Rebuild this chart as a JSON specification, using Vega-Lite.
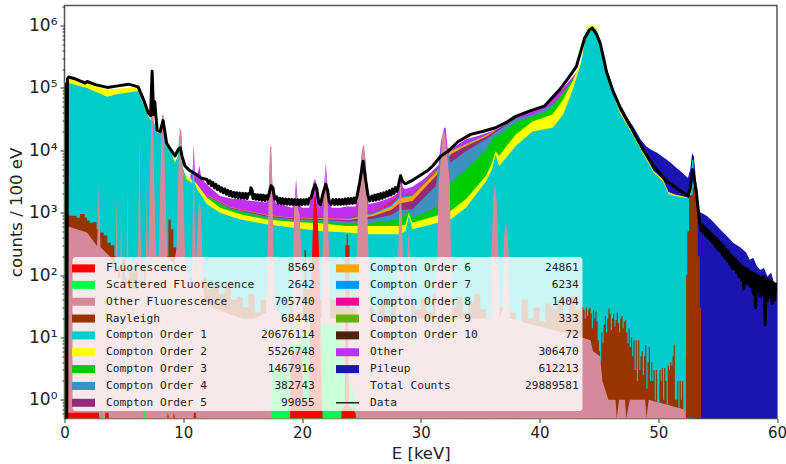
{"$schema":"https://vega.github.io/schema/vega-lite/v6.json","width":712.5,"height":413,"autosize":{"type":"none"},"padding":{"left":64.5,"top":5.5,"right":9,"bottom":45.5},"background":"white","config":{"view":{"stroke":"#555555","strokeWidth":1.5},"font":"DejaVu Sans"},"params":[{"name":"counts","value":{"Fluorescence":"8569","Scattered Fluorescence":"2642","Other Fluorescence":"705740","Rayleigh":"68448","Compton Order 1":"20676114","Compton Order 2":"5526748","Compton Order 3":"1467916","Compton Order 4":"382743","Compton Order 5":"99055","Compton Order 6":"24861","Compton Order 7":"6234","Compton Order 8":"1404","Compton Order 9":"333","Compton Order 10":"72","Other":"306470","Pileup":"612213","Total Counts":"29889581","Data":""}}],
"datasets":{
"pileup":[{"E":44.4,"counts":9e5},{"E":45,"counts":6e5},{"E":45.35,"counts":370000},{"E":45.63,"counts":210000},{"E":46.2,"counts":100000},{"E":46.75,"counts":5.5e4},{"E":47.3,"counts":3.5e4},{"E":47.9,"counts":2.4e4},{"E":48.5,"counts":1.5e4},{"E":49,"counts":1.15e4},{"E":49.4,"counts":1.02e4},{"E":49.9,"counts":9100},{"E":50.3,"counts":8000},{"E":50.7,"counts":7100},{"E":51.1,"counts":6200},{"E":51.5,"counts":5300},{"E":52,"counts":4400},{"E":52.5,"counts":3600},{"E":52.7,"counts":5000},{"E":52.85,"counts":9000},{"E":53,"counts":8000},{"E":53.2,"counts":3000},{"E":53.4,"counts":1050},{"E":53.7,"counts":980},{"E":54.1,"counts":885},{"E":54.6,"counts":720},{"E":55.2,"counts":540},{"E":55.8,"counts":420},{"E":56.3,"counts":330},{"E":56.9,"counts":280},{"E":57.4,"counts":230},{"E":57.7,"counts":175},{"E":58,"counts":190},{"E":58.3,"counts":140},{"E":58.6,"counts":120},{"E":58.9,"counts":130},{"E":59.2,"counts":95},{"E":59.5,"counts":110},{"E":59.8,"counts":70},{"E":60,"counts":75}],
"other":[{"E":10.6,"counts":4000},{"E":10.8,"counts":5000},{"E":10.88,"counts":12500},{"E":10.98,"counts":4500},{"E":11.2,"counts":4000},{"E":11.36,"counts":5700},{"E":11.5,"counts":3800},{"E":11.8,"counts":3100},{"E":12,"counts":2840},{"E":12.5,"counts":2300},{"E":13.1,"counts":1850},{"E":14,"counts":1680},{"E":14.8,"counts":1640},{"E":15.6,"counts":1550},{"E":16.5,"counts":1500},{"E":17,"counts":1450},{"E":17.2,"counts":2500},{"E":17.36,"counts":13000},{"E":17.52,"counts":2500},{"E":17.8,"counts":1400},{"E":18.5,"counts":1300},{"E":19.2,"counts":1200},{"E":19.4,"counts":1800},{"E":19.5,"counts":3500},{"E":19.65,"counts":1500},{"E":20,"counts":1200},{"E":20.6,"counts":1200},{"E":20.95,"counts":3000},{"E":21.1,"counts":3500},{"E":21.3,"counts":2500},{"E":21.5,"counts":1200},{"E":21.8,"counts":2000},{"E":22,"counts":6200},{"E":22.2,"counts":2000},{"E":22.5,"counts":1200},{"E":23.2,"counts":1200},{"E":23.75,"counts":1250},{"E":24.5,"counts":1250},{"E":24.75,"counts":1600},{"E":25,"counts":8000},{"E":25.16,"counts":12500},{"E":25.35,"counts":7000},{"E":25.6,"counts":1360},{"E":26.5,"counts":1500},{"E":27.5,"counts":1750},{"E":28,"counts":2000},{"E":28.1,"counts":2800},{"E":28.3,"counts":4300},{"E":28.5,"counts":2500},{"E":28.7,"counts":2400},{"E":29.3,"counts":2600},{"E":30,"counts":3200},{"E":30.5,"counts":3800},{"E":31.1,"counts":4900},{"E":31.5,"counts":5800},{"E":31.7,"counts":14000},{"E":31.97,"counts":23000},{"E":32.1,"counts":23000},{"E":32.25,"counts":11000},{"E":32.5,"counts":10300},{"E":33.8,"counts":15000},{"E":35,"counts":17500},{"E":36.2,"counts":21000},{"E":37,"counts":25000},{"E":38,"counts":34000},{"E":40.4,"counts":50000},{"E":41.7,"counts":88000},{"E":42.8,"counts":150000},{"E":43.3,"counts":200000}],
"c10":[{"E":24,"counts":828},{"E":26,"counts":1025},{"E":28.2,"counts":1830},{"E":29.3,"counts":2000},{"E":31.27,"counts":4620},{"E":32.5,"counts":10000}],
"c9":[{"E":24,"counts":825},{"E":26,"counts":1020},{"E":28.2,"counts":1820},{"E":29.3,"counts":1990},{"E":31.27,"counts":4600},{"E":32.5,"counts":9950}],
"c8":[{"E":24,"counts":820},{"E":26,"counts":1010},{"E":28.2,"counts":1800},{"E":29.3,"counts":1970},{"E":31.27,"counts":4550},{"E":32.5,"counts":9900},{"E":33.8,"counts":12900}],
"c7":[{"E":24,"counts":810},{"E":26,"counts":1000},{"E":27.5,"counts":1320},{"E":28.2,"counts":1780},{"E":29.3,"counts":1950},{"E":31.27,"counts":4500},{"E":32.5,"counts":9800},{"E":33.8,"counts":12800},{"E":35.5,"counts":17800}],
"c6":[{"E":12,"counts":1930},{"E":14,"counts":1220},{"E":17,"counts":920},{"E":19,"counts":840},{"E":21.5,"counts":810},{"E":24,"counts":790},{"E":26,"counts":950},{"E":27.5,"counts":1250},{"E":28.2,"counts":1700},{"E":29.3,"counts":1850},{"E":31.27,"counts":4400},{"E":32.5,"counts":9700},{"E":33.8,"counts":12500},{"E":35.5,"counts":17500},{"E":36.2,"counts":20500}],
"c5":[{"E":12,"counts":1900},{"E":14,"counts":1200},{"E":17,"counts":900},{"E":19,"counts":820},{"E":21.5,"counts":790},{"E":24,"counts":760},{"E":26,"counts":880},{"E":27.5,"counts":1100},{"E":28.2,"counts":1400},{"E":29.3,"counts":1540},{"E":31.27,"counts":3860},{"E":32.5,"counts":8600},{"E":33.8,"counts":11700},{"E":35.5,"counts":16500},{"E":36.2,"counts":20000},{"E":38,"counts":33000}],
"c4":[{"E":12,"counts":1850},{"E":14,"counts":1170},{"E":17,"counts":870},{"E":19,"counts":790},{"E":21.5,"counts":760},{"E":24,"counts":720},{"E":26,"counts":800},{"E":27.5,"counts":920},{"E":28.2,"counts":1100},{"E":29.3,"counts":1130},{"E":31.27,"counts":2670},{"E":31.7,"counts":10000},{"E":31.8,"counts":11000},{"E":32.2,"counts":11000},{"E":32.5,"counts":6300},{"E":33.8,"counts":9700},{"E":35.5,"counts":15000},{"E":36.2,"counts":19000},{"E":38,"counts":32000},{"E":39.4,"counts":37000},{"E":40.6,"counts":48000},{"E":41.5,"counts":60000}],
"c3":[{"E":12,"counts":1800},{"E":14,"counts":1120},{"E":17,"counts":830},{"E":19,"counts":750},{"E":21.5,"counts":720},{"E":24,"counts":660},{"E":26,"counts":690},{"E":27.5,"counts":740},{"E":28.2,"counts":800},{"E":29,"counts":1050},{"E":29.3,"counts":832},{"E":31.27,"counts":1200},{"E":32.5,"counts":3000},{"E":33.8,"counts":4900},{"E":35.5,"counts":10300},{"E":36.2,"counts":17000},{"E":36.6,"counts":17500},{"E":38,"counts":28000},{"E":39.4,"counts":35000},{"E":40.6,"counts":42000},{"E":42,"counts":84000},{"E":42.8,"counts":137000},{"E":43,"counts":140000}],
"c2":[{"E":0.02,"counts":130000},{"E":0.35,"counts":145000},{"E":1.9,"counts":120000},{"E":3.6,"counts":94000},{"E":4.4,"counts":97000},{"E":6.2,"counts":104000},{"E":6.65,"counts":62000},{"E":7.05,"counts":37000},{"E":7.8,"counts":20500},{"E":8.6,"counts":13000},{"E":9.3,"counts":7000},{"E":10.3,"counts":3900},{"E":11.1,"counts":2950},{"E":12,"counts":1740},{"E":13.1,"counts":1200},{"E":14.8,"counts":940},{"E":17,"counts":780},{"E":19.3,"counts":710},{"E":21.5,"counts":675},{"E":23.75,"counts":611},{"E":25.4,"counts":611},{"E":28.2,"counts":611},{"E":28.7,"counts":640},{"E":29,"counts":1000},{"E":29.15,"counts":800},{"E":29.3,"counts":690},{"E":31.27,"counts":885},{"E":32.5,"counts":1060},{"E":33.8,"counts":1640},{"E":35.5,"counts":3900},{"E":36,"counts":6300},{"E":36.3,"counts":9700},{"E":36.6,"counts":8100},{"E":38,"counts":18000},{"E":39.4,"counts":29000},{"E":41.1,"counts":37600},{"E":42,"counts":65000},{"E":42.8,"counts":129000},{"E":43.5,"counts":270000},{"E":43.65,"counts":400000},{"E":43.95,"counts":840000},{"E":44.1,"counts":970000},{"E":44.45,"counts":1040000},{"E":44.8,"counts":920000},{"E":45.07,"counts":600000},{"E":45.35,"counts":330000},{"E":45.63,"counts":175000},{"E":46.2,"counts":83000},{"E":46.76,"counts":43000},{"E":47.9,"counts":18000},{"E":49.6,"counts":4700},{"E":50.4,"counts":3400},{"E":50.85,"counts":2150},{"E":51.4,"counts":1950},{"E":52.5,"counts":1750},{"E":52.6,"counts":0.5}],
"c1":[{"E":0.02,"counts":110000},{"E":0.35,"counts":120000},{"E":1.9,"counts":100000},{"E":3.6,"counts":72000},{"E":4.4,"counts":79000},{"E":6.2,"counts":89000},{"E":6.65,"counts":54000},{"E":7.05,"counts":35000},{"E":7.25,"counts":30000},{"E":7.38,"counts":150000},{"E":7.5,"counts":30000},{"E":7.8,"counts":19000},{"E":8.05,"counts":19000},{"E":8.2,"counts":30000},{"E":8.4,"counts":30000},{"E":8.6,"counts":14000},{"E":9.3,"counts":6300},{"E":9.55,"counts":8000},{"E":9.65,"counts":17000},{"E":9.85,"counts":17000},{"E":10,"counts":5000},{"E":10.3,"counts":3400},{"E":10.75,"counts":3000},{"E":10.85,"counts":8000},{"E":10.95,"counts":3000},{"E":11.1,"counts":2500},{"E":12,"counts":1360},{"E":13.1,"counts":1000},{"E":14.8,"counts":780},{"E":17,"counts":650},{"E":19.3,"counts":575},{"E":21.5,"counts":508},{"E":23.75,"counts":479},{"E":25.4,"counts":450},{"E":28.2,"counts":450},{"E":28.7,"counts":500},{"E":29,"counts":885},{"E":29.15,"counts":700},{"E":29.3,"counts":540},{"E":31.27,"counts":675},{"E":32.5,"counts":780},{"E":33.8,"counts":1200},{"E":35.5,"counts":3200},{"E":36,"counts":4900},{"E":36.3,"counts":8600},{"E":36.6,"counts":5600},{"E":38,"counts":11700},{"E":39.4,"counts":20000},{"E":41.1,"counts":23000},{"E":42,"counts":37600},{"E":42.8,"counts":94000},{"E":43.5,"counts":250000},{"E":43.65,"counts":360000},{"E":43.95,"counts":760000},{"E":44.1,"counts":890000},{"E":44.45,"counts":910000},{"E":44.8,"counts":850000},{"E":45.07,"counts":550000},{"E":45.35,"counts":310000},{"E":45.63,"counts":165000},{"E":46.2,"counts":79000},{"E":46.76,"counts":40000},{"E":47.9,"counts":17000},{"E":49.6,"counts":4400},{"E":50.4,"counts":3200},{"E":50.85,"counts":2000},{"E":51.4,"counts":1850},{"E":52.5,"counts":1700},{"E":52.65,"counts":1700},{"E":52.85,"counts":7000},{"E":52.95,"counts":7000},{"E":53.1,"counts":1700},{"E":53.2,"counts":300},{"E":53.25,"counts":0.5}],
"rayleigh":[{"E":0.2,"counts":900},{"E":0.5,"counts":891},{"E":1,"counts":830},{"E":1.3,"counts":950},{"E":1.7,"counts":830},{"E":1.9,"counts":750},{"E":2.1,"counts":690},{"E":2.4,"counts":700},{"E":2.7,"counts":540},{"E":3,"counts":480},{"E":3.3,"counts":430},{"E":3.6,"counts":330},{"E":3.9,"counts":300},{"E":4.2,"counts":200},{"E":4.3,"counts":140},{"E":4.5,"counts":130},{"E":4.8,"counts":180},{"E":5.1,"counts":90},{"E":5.4,"counts":150},{"E":5.7,"counts":110},{"E":6,"counts":160},{"E":6.5,"counts":80},{"E":6.7,"counts":120},{"E":7.6,"counts":120},{"E":8.05,"counts":374},{"E":8.4,"counts":200},{"E":8.75,"counts":780},{"E":8.95,"counts":540},{"E":9.17,"counts":275},{"E":9.45,"counts":200},{"E":9.6,"counts":150},{"E":10,"counts":120},{"E":10.4,"counts":90},{"E":10.8,"counts":130},{"E":11.2,"counts":70},{"E":11.6,"counts":90},{"E":12,"counts":60},{"E":12.5,"counts":70},{"E":13,"counts":50},{"E":13.5,"counts":75},{"E":14,"counts":40},{"E":14.5,"counts":45},{"E":15,"counts":30},{"E":15.5,"counts":50},{"E":16,"counts":25},{"E":16.5,"counts":40},{"E":17,"counts":25},{"E":17.6,"counts":30},{"E":18,"counts":20},{"E":18.5,"counts":15},{"E":19,"counts":40},{"E":19.8,"counts":40},{"E":20.05,"counts":60},{"E":20.2,"counts":250},{"E":20.35,"counts":60},{"E":21,"counts":40},{"E":23.5,"counts":30},{"E":23.65,"counts":300},{"E":23.75,"counts":450},{"E":23.85,"counts":300},{"E":24,"counts":30},{"E":25.6,"counts":30},{"E":26,"counts":22},{"E":26.5,"counts":35},{"E":27,"counts":20},{"E":27.5,"counts":40},{"E":28,"counts":25},{"E":28.5,"counts":18},{"E":29,"counts":35},{"E":29.5,"counts":28},{"E":30,"counts":42},{"E":30.5,"counts":25},{"E":31,"counts":50},{"E":31.5,"counts":30},{"E":32.5,"counts":30},{"E":33,"counts":45},{"E":33.5,"counts":25},{"E":34,"counts":35},{"E":34.5,"counts":50},{"E":35,"counts":28},{"E":35.5,"counts":20},{"E":36,"counts":30},{"E":37.5,"counts":25},{"E":38,"counts":16},{"E":38.5,"counts":40},{"E":39,"counts":20},{"E":39.5,"counts":30},{"E":40,"counts":18},{"E":40.5,"counts":35},{"E":41,"counts":28},{"E":41.5,"counts":40},{"E":42,"counts":22},{"E":42.5,"counts":45},{"E":43,"counts":28},{"E":43.5,"counts":30},{"E":43.7,"counts":27.7},{"E":43.8,"counts":20},{"E":43.9,"counts":30},{"E":44,"counts":22},{"E":44.1,"counts":28},{"E":44.2,"counts":30},{"E":44.3,"counts":24},{"E":44.4,"counts":14},{"E":44.5,"counts":27},{"E":44.6,"counts":20},{"E":44.7,"counts":26},{"E":44.8,"counts":18},{"E":44.9,"counts":9},{"E":45,"counts":6},{"E":45.1,"counts":4},{"E":45.2,"counts":12},{"E":45.3,"counts":8},{"E":45.4,"counts":16},{"E":45.5,"counts":22},{"E":45.6,"counts":12},{"E":45.7,"counts":20},{"E":45.8,"counts":29},{"E":45.9,"counts":24},{"E":46,"counts":13},{"E":46.1,"counts":20},{"E":46.2,"counts":24},{"E":46.3,"counts":15},{"E":46.4,"counts":19},{"E":46.5,"counts":25},{"E":46.6,"counts":17},{"E":46.7,"counts":12},{"E":46.8,"counts":20},{"E":46.9,"counts":22},{"E":47,"counts":14},{"E":47.1,"counts":18},{"E":47.2,"counts":19},{"E":47.3,"counts":12},{"E":47.4,"counts":8},{"E":47.5,"counts":14},{"E":47.6,"counts":7},{"E":47.7,"counts":10},{"E":47.8,"counts":5},{"E":47.9,"counts":9},{"E":48,"counts":3},{"E":48.1,"counts":9},{"E":48.2,"counts":2},{"E":48.3,"counts":9},{"E":48.4,"counts":3},{"E":48.5,"counts":5},{"E":48.6,"counts":6},{"E":48.7,"counts":2.5},{"E":48.8,"counts":5},{"E":48.9,"counts":7.5},{"E":49,"counts":1.5},{"E":49.1,"counts":4},{"E":49.2,"counts":7},{"E":49.3,"counts":2},{"E":49.4,"counts":4},{"E":49.5,"counts":2},{"E":49.6,"counts":3},{"E":49.7,"counts":1},{"E":49.8,"counts":3},{"E":49.9,"counts":0.8},{"E":50,"counts":0.5},{"E":50.1,"counts":3},{"E":50.2,"counts":2},{"E":50.3,"counts":3.2},{"E":50.4,"counts":1},{"E":50.5,"counts":3.2},{"E":50.6,"counts":2},{"E":50.7,"counts":0.6},{"E":50.8,"counts":3.5},{"E":50.9,"counts":3},{"E":51,"counts":4},{"E":51.1,"counts":3.5},{"E":51.2,"counts":5},{"E":51.3,"counts":7.6},{"E":51.4,"counts":1},{"E":51.5,"counts":1},{"E":51.6,"counts":2},{"E":51.7,"counts":0.6},{"E":51.8,"counts":2},{"E":51.9,"counts":1},{"E":52,"counts":2},{"E":52.1,"counts":0.7},{"E":52.2,"counts":0.5},{"E":52.33,"counts":5},{"E":52.35,"counts":100},{"E":52.45,"counts":500},{"E":52.6,"counts":1900},{"E":52.9,"counts":2500},{"E":53.3,"counts":1800},{"E":53.33,"counts":200},{"E":53.5,"counts":30},{"E":53.6,"counts":0.5}],
"ofl":[{"E":0.2,"counts":611},{"E":1.9,"counts":480},{"E":2.75,"counts":290},{"E":2.89,"counts":2840},{"E":3.03,"counts":280},{"E":3.8,"counts":200},{"E":4.3,"counts":100},{"E":4.4,"counts":1970},{"E":4.5,"counts":90},{"E":4.68,"counts":90},{"E":4.77,"counts":1360},{"E":4.87,"counts":80},{"E":5.2,"counts":70},{"E":5.3,"counts":2500},{"E":5.4,"counts":60},{"E":6.15,"counts":60},{"E":6.22,"counts":600},{"E":6.31,"counts":23000},{"E":6.4,"counts":600},{"E":6.5,"counts":60},{"E":6.83,"counts":80},{"E":6.93,"counts":2670},{"E":7.03,"counts":200},{"E":7.05,"counts":200},{"E":7.2,"counts":4000},{"E":7.33,"counts":40000},{"E":7.45,"counts":40000},{"E":7.55,"counts":3000},{"E":7.72,"counts":200},{"E":7.93,"counts":200},{"E":8.08,"counts":4000},{"E":8.2,"counts":37000},{"E":8.35,"counts":37000},{"E":8.5,"counts":2000},{"E":8.65,"counts":200},{"E":9.25,"counts":150},{"E":9.45,"counts":300},{"E":9.6,"counts":6000},{"E":9.7,"counts":23000},{"E":9.85,"counts":20000},{"E":10,"counts":3000},{"E":10.15,"counts":200},{"E":10.7,"counts":60},{"E":10.8,"counts":1000},{"E":10.88,"counts":10300},{"E":10.96,"counts":1000},{"E":11.05,"counts":100},{"E":11.1,"counts":200},{"E":11.25,"counts":900},{"E":11.36,"counts":1850},{"E":11.5,"counts":900},{"E":11.62,"counts":180},{"E":11.75,"counts":40},{"E":12.5,"counts":30},{"E":13.5,"counts":25},{"E":15,"counts":20},{"E":16,"counts":20},{"E":17,"counts":25},{"E":17.1,"counts":200},{"E":17.2,"counts":2000},{"E":17.3,"counts":11000},{"E":17.42,"counts":11700},{"E":17.5,"counts":2500},{"E":17.6,"counts":200},{"E":17.75,"counts":30},{"E":18.5,"counts":20},{"E":19.2,"counts":25},{"E":19.25,"counts":200},{"E":19.35,"counts":1200},{"E":19.5,"counts":2700},{"E":19.65,"counts":1200},{"E":19.8,"counts":900},{"E":19.97,"counts":200},{"E":20.05,"counts":20},{"E":21.65,"counts":20},{"E":21.72,"counts":200},{"E":21.85,"counts":1800},{"E":22,"counts":5600},{"E":22.15,"counts":1800},{"E":22.28,"counts":200},{"E":22.4,"counts":20},{"E":24.55,"counts":20},{"E":24.6,"counts":200},{"E":24.8,"counts":3000},{"E":25.05,"counts":10000},{"E":25.25,"counts":11700},{"E":25.45,"counts":3000},{"E":25.6,"counts":200},{"E":25.7,"counts":25},{"E":27,"counts":20},{"E":27.9,"counts":15},{"E":28.1,"counts":200},{"E":28.2,"counts":1500},{"E":28.3,"counts":4000},{"E":28.4,"counts":1000},{"E":28.5,"counts":200},{"E":28.6,"counts":20},{"E":28.8,"counts":20},{"E":28.85,"counts":200},{"E":28.96,"counts":450},{"E":29.1,"counts":200},{"E":29.2,"counts":20},{"E":31.2,"counts":20},{"E":31.4,"counts":200},{"E":31.5,"counts":3000},{"E":31.65,"counts":6000},{"E":31.8,"counts":16000},{"E":31.97,"counts":21600},{"E":32.1,"counts":15000},{"E":32.3,"counts":6000},{"E":32.45,"counts":3000},{"E":32.55,"counts":200},{"E":32.65,"counts":20},{"E":35.9,"counts":20},{"E":35.95,"counts":200},{"E":36.1,"counts":1500},{"E":36.25,"counts":3200},{"E":36.4,"counts":1500},{"E":36.55,"counts":200},{"E":36.65,"counts":20},{"E":36.9,"counts":30},{"E":36.95,"counts":200},{"E":37.05,"counts":500},{"E":37.18,"counts":690},{"E":37.3,"counts":500},{"E":37.4,"counts":200},{"E":37.5,"counts":20},{"E":40,"counts":15},{"E":43.5,"counts":10},{"E":44.3,"counts":9},{"E":44.5,"counts":6},{"E":45.1,"counts":5},{"E":45.3,"counts":2},{"E":45.8,"counts":1},{"E":46.4,"counts":1},{"E":46.5,"counts":0.5},{"E":46.7,"counts":1},{"E":47.2,"counts":1},{"E":47.3,"counts":0.5},{"E":47.6,"counts":1},{"E":48.9,"counts":1},{"E":49,"counts":0.5},{"E":49.2,"counts":1},{"E":52.2,"counts":0.7},{"E":52.3,"counts":0.5}],
"sfl":[{"E":6.6,"counts":0.5},{"E":6.65,"counts":0.7},{"E":6.75,"counts":0.7},{"E":6.8,"counts":0.5},{"E":17.4,"counts":0.5},{"E":17.45,"counts":3.4},{"E":18.8,"counts":3.4},{"E":19,"counts":8},{"E":19.9,"counts":8},{"E":20,"counts":13},{"E":21,"counts":13},{"E":21.7,"counts":16},{"E":23.3,"counts":16},{"E":23.5,"counts":5},{"E":24.5,"counts":1},{"E":24.55,"counts":0.5}],
"fluor":[{"E":0.02,"counts":6.3},{"E":0.15,"counts":6.3},{"E":0.2,"counts":0.62},{"E":2.9,"counts":0.62},{"E":2.95,"counts":0.5},{"E":3.4,"counts":0.5},{"E":3.45,"counts":0.62},{"E":3.7,"counts":0.62},{"E":3.75,"counts":0.5},{"E":8.65,"counts":0.5},{"E":8.7,"counts":0.62},{"E":8.8,"counts":0.5},{"E":9.15,"counts":0.5},{"E":9.2,"counts":0.62},{"E":9.3,"counts":0.5},{"E":10.85,"counts":0.5},{"E":10.9,"counts":0.62},{"E":11.05,"counts":0.62},{"E":11.1,"counts":0.5},{"E":19,"counts":0.5},{"E":19.05,"counts":6},{"E":20,"counts":6},{"E":20.1,"counts":1},{"E":20.6,"counts":1},{"E":20.7,"counts":20},{"E":20.85,"counts":200},{"E":20.95,"counts":900},{"E":21.05,"counts":1800},{"E":21.15,"counts":1800},{"E":21.35,"counts":600},{"E":21.5,"counts":100},{"E":21.6,"counts":2},{"E":21.75,"counts":0.5},{"E":23.3,"counts":0.5},{"E":23.35,"counts":0.7},{"E":23.6,"counts":0.8},{"E":23.7,"counts":300},{"E":23.8,"counts":300},{"E":23.95,"counts":0.8},{"E":24.5,"counts":0.62},{"E":24.55,"counts":0.5}],
"data":[{"E":0.1,"counts":120000},{"E":0.15,"counts":120000},{"E":0.19,"counts":0.5},{"E":0.25,"counts":140000},{"E":0.35,"counts":150000},{"E":0.8,"counts":142000},{"E":1.3,"counts":130000},{"E":1.75,"counts":120000},{"E":1.9,"counts":127000},{"E":2.6,"counts":113000},{"E":3.6,"counts":102000},{"E":4.5,"counts":108000},{"E":5.4,"counts":115000},{"E":6.2,"counts":104000},{"E":6.65,"counts":65000},{"E":7.05,"counts":40000},{"E":7.25,"counts":36000},{"E":7.38,"counts":186000},{"E":7.5,"counts":37000},{"E":7.6,"counts":60000},{"E":7.8,"counts":21000},{"E":8.05,"counts":20000},{"E":8.3,"counts":30000},{"E":8.45,"counts":20000},{"E":8.6,"counts":13000},{"E":9.3,"counts":8100},{"E":9.6,"counts":10500},{"E":9.75,"counts":11000},{"E":9.9,"counts":8000},{"E":10.15,"counts":5600},{"E":10.5,"counts":4800},{"E":11.1,"counts":4100},{"E":11.5,"counts":3600},{"E":12,"counts":3400},{"E":12.125,"counts":2950},{"E":12.25,"counts":3250},{"E":12.375,"counts":2700},{"E":12.5,"counts":3050},{"E":12.625,"counts":2500},{"E":12.75,"counts":2850},{"E":12.875,"counts":2350},{"E":13,"counts":2670},{"E":13.125,"counts":2200},{"E":13.25,"counts":2500},{"E":13.375,"counts":2080},{"E":13.5,"counts":2400},{"E":13.625,"counts":1980},{"E":13.75,"counts":2280},{"E":13.875,"counts":1880},{"E":14,"counts":2200},{"E":14.125,"counts":1820},{"E":14.25,"counts":2130},{"E":14.375,"counts":1770},{"E":14.5,"counts":2090},{"E":14.625,"counts":1740},{"E":14.75,"counts":2060},{"E":14.875,"counts":1710},{"E":15,"counts":2040},{"E":15.125,"counts":1700},{"E":15.25,"counts":2030},{"E":15.375,"counts":1690},{"E":15.5,"counts":2020},{"E":15.625,"counts":2000},{"E":15.7,"counts":2500},{"E":15.8,"counts":2300},{"E":15.875,"counts":1680},{"E":16,"counts":1960},{"E":16.125,"counts":1640},{"E":16.25,"counts":1940},{"E":16.375,"counts":1610},{"E":16.5,"counts":1920},{"E":16.625,"counts":1590},{"E":16.75,"counts":1900},{"E":16.875,"counts":1570},{"E":17,"counts":1870},{"E":17.1,"counts":1650},{"E":17.25,"counts":2100},{"E":17.4,"counts":2700},{"E":17.55,"counts":2500},{"E":17.7,"counts":1650},{"E":17.85,"counts":1800},{"E":18,"counts":1420},{"E":18.125,"counts":1700},{"E":18.25,"counts":1390},{"E":18.375,"counts":1680},{"E":18.5,"counts":1380},{"E":18.625,"counts":1650},{"E":18.75,"counts":1370},{"E":18.875,"counts":1640},{"E":19,"counts":1360},{"E":19.125,"counts":1630},{"E":19.25,"counts":1350},{"E":19.375,"counts":1620},{"E":19.5,"counts":1350},{"E":19.625,"counts":1610},{"E":19.75,"counts":1340},{"E":19.875,"counts":1610},{"E":20,"counts":1350},{"E":20.125,"counts":1610},{"E":20.25,"counts":1360},{"E":20.375,"counts":1620},{"E":20.5,"counts":1370},{"E":20.625,"counts":1700},{"E":20.75,"counts":1700},{"E":20.9,"counts":2200},{"E":21.1,"counts":2800},{"E":21.25,"counts":2400},{"E":21.4,"counts":1500},{"E":21.55,"counts":1340},{"E":21.7,"counts":1800},{"E":21.85,"counts":2300},{"E":22,"counts":2850},{"E":22.15,"counts":2300},{"E":22.3,"counts":1500},{"E":22.45,"counts":1350},{"E":22.6,"counts":1620},{"E":22.75,"counts":1350},{"E":22.875,"counts":1620},{"E":23,"counts":1360},{"E":23.125,"counts":1630},{"E":23.25,"counts":1360},{"E":23.375,"counts":1630},{"E":23.5,"counts":1370},{"E":23.625,"counts":1650},{"E":23.75,"counts":1380},{"E":23.875,"counts":1670},{"E":24,"counts":1400},{"E":24.125,"counts":1680},{"E":24.25,"counts":1410},{"E":24.375,"counts":1710},{"E":24.5,"counts":1430},{"E":24.65,"counts":1900},{"E":24.85,"counts":3000},{"E":25.15,"counts":6700},{"E":25.35,"counts":3500},{"E":25.55,"counts":1900},{"E":25.7,"counts":1540},{"E":25.875,"counts":1850},{"E":26,"counts":1570},{"E":26.125,"counts":1910},{"E":26.25,"counts":1600},{"E":26.375,"counts":1960},{"E":26.5,"counts":1640},{"E":26.625,"counts":2020},{"E":26.75,"counts":1700},{"E":26.875,"counts":2080},{"E":27,"counts":1770},{"E":27.125,"counts":2170},{"E":27.25,"counts":1850},{"E":27.375,"counts":2260},{"E":27.5,"counts":1920},{"E":27.625,"counts":2400},{"E":27.75,"counts":2040},{"E":27.875,"counts":2520},{"E":28,"counts":2200},{"E":28.15,"counts":2900},{"E":28.3,"counts":3900},{"E":28.45,"counts":3200},{"E":28.7,"counts":2900},{"E":29.3,"counts":3300},{"E":29.9,"counts":3900},{"E":30.5,"counts":4600},{"E":31,"counts":5600},{"E":31.7,"counts":8100},{"E":32.3,"counts":9700},{"E":33.2,"counts":14000},{"E":34.2,"counts":18000},{"E":35.2,"counts":20000},{"E":36.3,"counts":23000},{"E":37.2,"counts":28000},{"E":38,"counts":35000},{"E":39.2,"counts":43000},{"E":40.4,"counts":51000},{"E":41.7,"counts":94000},{"E":42.5,"counts":150000},{"E":43.1,"counts":220000},{"E":43.8,"counts":630000},{"E":44.2,"counts":850000},{"E":44.45,"counts":910000},{"E":44.8,"counts":730000},{"E":45.1,"counts":530000},{"E":45.35,"counts":330000},{"E":45.63,"counts":185000},{"E":46.2,"counts":88000},{"E":46.75,"counts":51000},{"E":47.9,"counts":20000},{"E":48.7,"counts":10500},{"E":49.6,"counts":5600},{"E":50.7,"counts":3200},{"E":51.5,"counts":2500},{"E":52.5,"counts":1850},{"E":52.7,"counts":2500},{"E":52.9,"counts":4900},{"E":53.2,"counts":2200},{"E":53.5,"counts":650},{"E":53.6,"counts":520},{"E":53.7,"counts":640},{"E":53.8,"counts":470},{"E":53.9,"counts":590},{"E":54,"counts":430},{"E":54.1,"counts":540},{"E":54.2,"counts":390},{"E":54.3,"counts":500},{"E":54.4,"counts":360},{"E":54.5,"counts":460},{"E":54.6,"counts":330},{"E":54.7,"counts":420},{"E":54.8,"counts":290},{"E":54.9,"counts":390},{"E":55,"counts":260},{"E":55.1,"counts":350},{"E":55.2,"counts":240},{"E":55.3,"counts":320},{"E":55.4,"counts":210},{"E":55.5,"counts":290},{"E":55.6,"counts":190},{"E":55.7,"counts":260},{"E":55.8,"counts":170},{"E":55.9,"counts":240},{"E":56,"counts":150},{"E":56.1,"counts":210},{"E":56.2,"counts":130},{"E":56.3,"counts":195},{"E":56.4,"counts":125},{"E":56.5,"counts":180},{"E":56.6,"counts":110},{"E":56.7,"counts":165},{"E":56.8,"counts":95},{"E":56.9,"counts":150},{"E":57,"counts":85},{"E":57.1,"counts":135},{"E":57.2,"counts":60},{"E":57.3,"counts":130},{"E":57.4,"counts":75},{"E":57.5,"counts":125},{"E":57.6,"counts":70},{"E":57.7,"counts":115},{"E":57.8,"counts":65},{"E":57.9,"counts":110},{"E":58,"counts":50},{"E":58.1,"counts":105},{"E":58.2,"counts":30},{"E":58.3,"counts":100},{"E":58.4,"counts":55},{"E":58.5,"counts":95},{"E":58.6,"counts":45},{"E":58.7,"counts":90},{"E":58.8,"counts":50},{"E":58.9,"counts":95},{"E":59,"counts":16},{"E":59.1,"counts":85},{"E":59.2,"counts":40},{"E":59.3,"counts":85},{"E":59.4,"counts":45},{"E":59.5,"counts":80},{"E":59.6,"counts":35},{"E":59.7,"counts":75},{"E":59.8,"counts":40},{"E":59.9,"counts":72},{"E":60,"counts":58}]
},
"encoding":{"x":{"field":"E","type":"quantitative","scale":{"domain":[0,60],"nice":false,"zero":false},"axis":{"title":"E [keV]","values":[0,10,20,30,40,50,60],"grid":false,"domain":false,"format":"d","tickSize":4,"tickColor":"#333","labelFontSize":15,"labelColor":"#222","titleFontSize":16.5,"titleColor":"#222","titleFontWeight":"normal","labelPadding":3,"titlePadding":5,"labelFlush":false}},"y":{"field":"counts","type":"quantitative","stack":null,"scale":{"type":"log","domain":[0.5,2100000],"nice":false},"axis":null},"y2":{"datum":0.5}},
"resolve":{"axis":{"y":"independent"}},
"layer":[
{"data":{"name":"pileup"},"mark":{"type":"area","clip":true},"encoding":{"y":{"field":"counts","type":"quantitative","stack":null,"scale":{"type":"log","domain":[0.5,2100000],"nice":false},"axis":{"title":"counts / 100 eV","orient":"left","values":[1,10,100,1000,10000,100000,1000000],"grid":false,"domain":false,"tickSize":4.5,"tickColor":"#333","labelFontSize":17,"labelColor":"#222","titleFontSize":16.5,"titleColor":"#222","titleFontWeight":"normal","labelPadding":3,"titlePadding":4,"labelExpr":"'10'+['⁰','¹','²','³','⁴','⁵','⁶'][round(log(datum.value)/LN10)]"}},"color":{"datum":"Pileup","scale":{"domain":["Fluorescence","Scattered Fluorescence","Other Fluorescence","Rayleigh","Compton Order 1","Compton Order 2","Compton Order 3","Compton Order 4","Compton Order 5","Compton Order 6","Compton Order 7","Compton Order 8","Compton Order 9","Compton Order 10","Other","Pileup","Total Counts","Data"],"range":["#ff0000","#00ff44","#d48a9a","#993300","#00cccc","#ffff00","#00cc00","#3f8fbf","#942b7a","#ffa500","#0099ff","#ff0099","#66b200","#4d2010","#c030f0","#1a14b0","transparent","#000000"]},"legend":{"title":null,"orient":"none","legendX":8,"legendY":251.5,"columns":2,"fillColor":"rgba(255,255,255,0.8)","cornerRadius":3,"padding":3,"labelFont":"DejaVu Sans Mono","labelFontSize":11.2,"labelColor":"#222","labelLimit":0,"labelOffset":14.5,"symbolType":"M-1.44,-0.5H1.44V0.5H-1.44Z","symbolSize":256,"symbolStrokeWidth":0,"rowPadding":2.85,"columnPadding":20,"labelExpr":"pad(datum.label,31-length(counts[datum.label]),'\u00a0')+counts[datum.label]","encoding":{"symbols":{"shape":{"value":{"signal":"datum.value==='Data'?'M-1.44,-0.08H1.44V0.08H-1.44Z':'M-1.44,-0.5H1.44V0.5H-1.44Z'"}}}}}}}},
{"data":{"name":"other"},"mark":{"type":"area","clip":true},"encoding":{"y":{"field":"counts","type":"quantitative","stack":null,"scale":{"type":"log","domain":[0.5,2100000],"nice":false},"axis":{"title":null,"orient":"left","labels":false,"grid":false,"domain":false,"tickSize":2.5,"tickColor":"#333","values":[0.6,0.7,0.8,0.9,2,3,4,5,6,7,8,9,20,30,40,50,60,70,80,90,200,300,400,500,600,700,800,900,2000,3000,4000,5000,6000,7000,8000,9000,20000,30000,40000,50000,60000,70000,80000,90000,200000,300000,400000,500000,600000,700000,800000,900000,2000000]}},"color":{"datum":"Other"}}},
{"data":{"name":"c10"},"mark":{"type":"area","clip":true},"encoding":{"color":{"datum":"Compton Order 10"}}},
{"data":{"name":"c9"},"mark":{"type":"area","clip":true},"encoding":{"color":{"datum":"Compton Order 9"}}},
{"data":{"name":"c8"},"mark":{"type":"area","clip":true},"encoding":{"color":{"datum":"Compton Order 8"}}},
{"data":{"name":"c7"},"mark":{"type":"area","clip":true},"encoding":{"color":{"datum":"Compton Order 7"}}},
{"data":{"name":"c6"},"mark":{"type":"area","clip":true},"encoding":{"color":{"datum":"Compton Order 6"}}},
{"data":{"name":"c5"},"mark":{"type":"area","clip":true},"encoding":{"color":{"datum":"Compton Order 5"}}},
{"data":{"name":"c4"},"mark":{"type":"area","clip":true},"encoding":{"color":{"datum":"Compton Order 4"}}},
{"data":{"name":"c3"},"mark":{"type":"area","clip":true},"encoding":{"color":{"datum":"Compton Order 3"}}},
{"data":{"name":"c2"},"mark":{"type":"area","clip":true},"encoding":{"color":{"datum":"Compton Order 2"}}},
{"data":{"name":"c1"},"mark":{"type":"area","clip":true},"encoding":{"color":{"datum":"Compton Order 1"}}},
{"data":{"name":"rayleigh"},"mark":{"type":"area","clip":true,"interpolate":"step-after"},"encoding":{"color":{"datum":"Rayleigh"}}},
{"data":{"name":"ofl"},"mark":{"type":"area","clip":true},"encoding":{"color":{"datum":"Other Fluorescence"}}},
{"data":{"name":"sfl"},"mark":{"type":"area","clip":true},"encoding":{"color":{"datum":"Scattered Fluorescence"}}},
{"data":{"name":"fluor"},"mark":{"type":"area","clip":true},"encoding":{"color":{"datum":"Fluorescence"}}},
{"data":{"name":"data"},"mark":{"type":"line","clip":true,"strokeWidth":3,"strokeJoin":"round"},"encoding":{"color":{"datum":"Data"},"y2":null}}
]}
